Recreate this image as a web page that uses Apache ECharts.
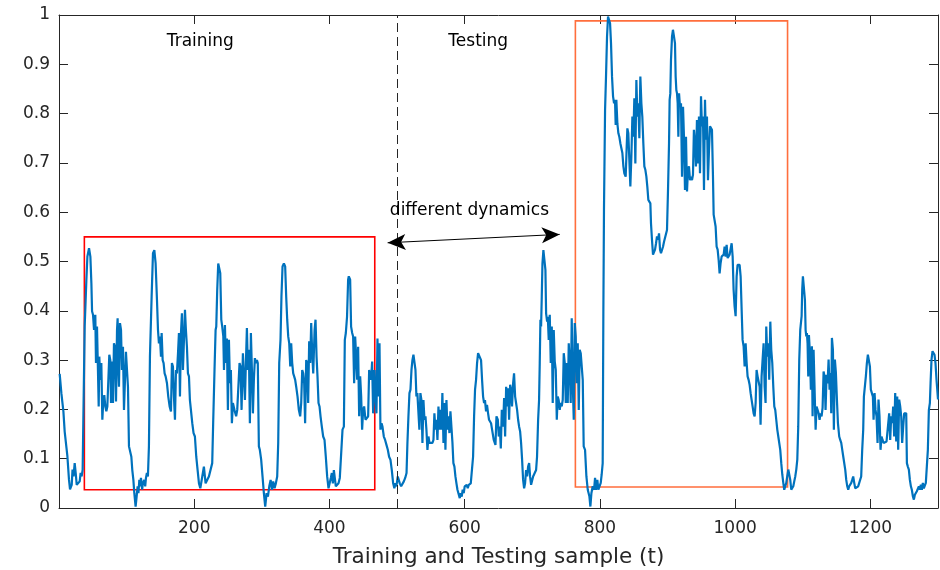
<!DOCTYPE html>
<html>
<head>
<meta charset="utf-8">
<script src="https://cdn.jsdelivr.net/npm/echarts@6/dist/echarts.min.js"></script>
<style>
html,body{margin:0;padding:0;background:#fff;}
#chart{width:940px;height:570px;}
</style>
</head>
<body>
<div id="chart"></div>
<script>
// ---- data: [sample t, value] ----
const seg1 = [[1,0.272],[3.5,0.233],[6.5,0.196],[8.4,0.155],[11,0.152],[12.4,0.105],[14.8,0.057],[16.3,0.038],[18.8,0.047],[20,0.078],[21.5,0.064],[23.2,0.091],[24.7,0.071],[26.2,0.047],[28.6,0.044],[30.6,0.054],[32,0.071],[33.5,0.064],[35,0.078],[36,0.179],[38,0.37],[40.5,0.463],[42,0.51],[44.4,0.527],[46.4,0.51],[47.9,0.456],[48.9,0.399],[50.3,0.392],[51.8,0.361],[53.7,0.392],[54.7,0.294],[56.2,0.368],[57.7,0.273],[58.7,0.206],[59.6,0.307],[61.1,0.26],[62.6,0.294],[64.1,0.179],[65.6,0.219],[67,0.229],[68.5,0.206],[70,0.196],[71.5,0.206],[73,0.209],[74.4,0.311],[75.9,0.30],[76.9,0.213],[78.4,0.297],[79.8,0.213],[81.3,0.334],[82.8,0.327],[84.3,0.216],[85.8,0.361],[86.7,0.385],[87.7,0.287],[88.7,0.246],[90.2,0.375],[91.7,0.361],[93.1,0.28],[94.6,0.327],[96.1,0.199],[97.6,0.26],[99,0.317],[100.5,0.314],[102,0.246],[103.5,0.125],[105.5,0.121],[107,0.104],[108.4,0.077],[110,0.057],[111.4,0.030],[113.3,0.003],[114.8,0.023],[116.3,0.044],[117.5,0.03],[118.8,0.057],[120,0.044],[121.2,0.061],[123,0.037],[124,0.05],[126,0.057],[127.5,0.044],[128.6,0.061],[130,0.071],[131.5,0.064],[133,0.125],[134.5,0.307],[137,0.429],[139,0.517],[141,0.523],[142.9,0.496],[144.9,0.422],[146.4,0.361],[147.8,0.334],[149.3,0.348],[150.8,0.307],[151.8,0.355],[153.3,0.30],[154.7,0.294],[156.2,0.273],[157.7,0.267],[159.7,0.253],[161.6,0.226],[163.6,0.206],[165.6,0.196],[167,0.294],[168.5,0.287],[170,0.226],[171.5,0.179],[173,0.28],[174.4,0.273],[176,0.314],[177.4,0.355],[178.9,0.226],[180.4,0.355],[181.8,0.395],[183.3,0.28],[184.8,0.341],[186.3,0.402],[187.7,0.361],[189.2,0.327],[190.7,0.273],[192.2,0.267],[193.6,0.219],[195.1,0.199],[197.1,0.172],[199,0.152],[201,0.145],[203,0.104],[205,0.077],[207,0.05],[209,0.040]];
const seg2 = [[211.9,0.064],[214.3,0.084],[216.8,0.050],[219,0.054],[221.7,0.064],[224,0.067],[226.6,0.091],[228,0.172],[230,0.28],[231.6,0.361],[232.6,0.368],[234,0.442],[235.5,0.496],[237,0.50],[238.5,0.476],[240,0.382],[241.4,0.368],[243,0.348],[244,0.28],[245.4,0.371],[246.8,0.294],[248.3,0.344],[249.8,0.199],[251.3,0.341],[252.8,0.253],[254.2,0.28],[255.7,0.172],[257.2,0.213],[258.7,0.216],[260,0.196],[262,0.186],[263.6,0.199],[265.6,0.196],[267,0.294],[268.5,0.287],[270,0.199],[272,0.314],[273.5,0.317],[275,0.219],[276.4,0.294],[277.9,0.365],[279.4,0.28],[280.8,0.321],[282.3,0.172],[283.8,0.355],[285.3,0.28],[286.8,0.192],[288.2,0.26],[289.7,0.304],[291.2,0.294],[292.7,0.30],[294,0.294],[295.6,0.125],[297,0.118],[299,0.098],[301,0.064],[303,0.030],[305,0.003],[307,0.030],[309,0.023],[311,0.044],[313,0.057],[315,0.037],[316.8,0.054],[318.8,0.040],[320.7,0.05],[322.7,0.064],[324.2,0.132],[325.7,0.294],[327.6,0.341],[329,0.429],[330.6,0.49],[332.6,0.496],[334.5,0.49],[336,0.429],[337.5,0.382],[339,0.348],[340.5,0.334],[342,0.287],[343.4,0.334],[344.9,0.294],[346.4,0.273],[347.8,0.267],[349.3,0.26],[350.8,0.246],[352.8,0.226],[354.7,0.199],[356.7,0.186],[358.2,0.213],[359.7,0.28],[361.2,0.273],[362.6,0.253],[364,0.172],[365.6,0.30],[367,0.294],[368.5,0.213],[370,0.338],[371.5,0.294],[373,0.375],[374.5,0.314],[376,0.273],[378,0.361],[379.4,0.382],[380.9,0.307],[382.3,0.267],[383.8,0.213],[385.3,0.206],[386.8,0.186],[388.7,0.165],[390.7,0.145],[392.7,0.138],[394.6,0.104],[396.6,0.064],[398.6,0.040],[400.6,0.037],[402,0.061],[403.5,0.071],[405,0.050],[406.5,0.077],[408,0.081],[409.4,0.044],[411.4,0.040],[413.4,0.05],[415.3,0.061],[417.3,0.064],[419.3,0.159],[421.3,0.165],[422.7,0.341],[424.2,0.355],[426,0.388],[427.6,0.463],[428.6,0.47]];
const seg3 = [[430.6,0.463],[432,0.368],[433.6,0.355],[435,0.348],[436.5,0.253],[438,0.348],[439.5,0.307],[441,0.26],[442.4,0.327],[443.9,0.186],[445.4,0.267],[446.9,0.226],[448.3,0.159],[449.8,0.199],[451.3,0.206],[453.3,0.179],[455.2,0.182],[457.2,0.186],[458.7,0.28],[460.2,0.267],[461.6,0.26],[463.1,0.297],[464.6,0.192],[466.6,0.28],[468,0.226],[469.5,0.192],[471,0.344],[472.5,0.226],[474,0.334],[475.4,0.159],[477,0.172],[478.4,0.165],[480.4,0.145],[482.3,0.138],[484.3,0.128],[486.3,0.118],[488.2,0.104],[490.2,0.098],[492.2,0.077],[494.2,0.050],[496,0.040],[497.6,0.050],[499,0.044],[501,0.064],[502.5,0.067],[504,0.050],[506,0.044],[508,0.047],[510,0.054],[512,0.061],[514,0.071],[515.3,0.132],[516.8,0.186],[518.3,0.233],[519.8,0.24],[521.3,0.28],[522.7,0.30],[524.2,0.311],[525.7,0.307],[527.2,0.28],[528.6,0.226],[530,0.233],[531.6,0.236],[533,0.159],[534.5,0.233],[536,0.219],[537.5,0.132],[539,0.219],[540.5,0.179],[542,0.186],[543.4,0.159],[544.9,0.118],[546.4,0.145],[547.9,0.132],[549.3,0.135],[550.8,0.128],[552.3,0.132],[553.8,0.138],[555.2,0.192],[556.7,0.159],[558.2,0.179],[559.7,0.138],[561.2,0.206],[562.6,0.159],[564,0.199],[565.6,0.159],[567,0.233],[568.6,0.132],[570,0.213],[571.5,0.118],[573,0.219],[574.5,0.159],[576,0.186],[577.4,0.152],[578.9,0.196],[580.4,0.192],[581.9,0.132],[583.3,0.091],[584.8,0.084],[586.3,0.064],[587.8,0.050],[589.3,0.037],[591.2,0.040],[592.7,0.020],[594.2,0.030],[595.6,0.023],[597,0.037],[598.6,0.030],[600,0.044],[601.6,0.040],[603,0.047],[604.5,0.040],[606,0.047],[607.5,0.044],[609,0.05],[611,0.054],[612.4,0.104],[613.9,0.186],[615.3,0.24],[616.8,0.26],[618.3,0.294],[619.8,0.314],[621.3,0.317],[622.7,0.314],[624.2,0.30],[625.7,0.26],[627.2,0.226],[628.7,0.213],[630,0.219],[631.6,0.196],[633,0.209],[634.6,0.192],[636,0.179],[637.5,0.175],[639,0.172],[640.5,0.159],[643,0.138]];
const seg4 = [[645.5,0.128],[647,0.186],[649,0.179],[650.4,0.145],[651.9,0.165],[653.4,0.121],[654.9,0.199],[656.8,0.165],[658.3,0.223],[659.8,0.145],[661.3,0.246],[662.7,0.206],[664.2,0.243],[665.7,0.179],[667.2,0.25],[668.6,0.24],[670,0.206],[671.6,0.253],[673,0.273],[674.6,0.226],[676,0.213],[677.5,0.199],[679,0.179],[680.5,0.165],[682,0.155],[683.4,0.132],[684.9,0.098],[686.4,0.057],[687.9,0.040],[689.3,0.050],[690.8,0.077],[692.3,0.064],[693.8,0.084],[695.3,0.091],[696.7,0.064],[698.2,0.047],[699.7,0.050],[701.2,0.064],[702.6,0.061],[704,0.064],[705.6,0.077],[707,0.104],[708.6,0.179],[710,0.219],[711,0.294],[712,0.382],[713,0.368],[714,0.429],[715,0.496],[716.4,0.523],[718,0.523],[719.4,0.483],[720.4,0.395],[721.9,0.378],[722.9,0.388],[724.3,0.341],[725.8,0.392],[727.3,0.294],[728.8,0.368],[730.2,0.213],[731.7,0.361],[733.2,0.297],[734.7,0.28],[736.2,0.179],[737.6,0.226],[739,0.219],[740.6,0.199],[742,0.213],[743.5,0.206],[745,0.219],[746.5,0.314],[748,0.294],[749.5,0.213],[751,0.294],[752.4,0.213],[753.9,0.334],[755.4,0.294],[756.8,0.213],[758.3,0.385],[759.8,0.253],[761.3,0.179],[762.8,0.375],[764.2,0.348],[765.7,0.253],[767.2,0.334],[768.7,0.199],[770.1,0.321],[771.6,0.314],[773,0.314],[774.6,0.26]];
const seg5 = [[776,0.125],[778,0.118],[780,0.064],[782,0.037],[784.4,0.024],[785.9,0.003],[787.4,0.030],[789.3,0.044],[791.3,0.037],[792.8,0.061],[794.3,0.037],[796.2,0.057],[797.7,0.037],[799.7,0.037],[801.2,0.051],[802.6,0.068],[804.1,0.091],[805.1,0.402],[806,0.605],[807.6,0.807],[809,0.875],[810.5,0.956],[812,0.997],[813.5,1.0],[815,0.983],[816.4,0.943],[817.9,0.875],[819.4,0.835],[820.9,0.821],[822.3,0.828],[823.3,0.777],[824.3,0.828],[825.8,0.780],[827.3,0.760],[828.7,0.753],[830.2,0.740],[831.7,0.743],[833.2,0.720],[834.7,0.693],[836.1,0.679],[838.1,0.672],[839.6,0.733],[840.6,0.770],[842,0.760],[843.5,0.763],[845,0.652],[846.5,0.713],[848,0.794],[849.4,0.753],[850.9,0.831],[852.4,0.699],[853.9,0.868],[855.4,0.794],[856.8,0.821],[858.3,0.750],[859.8,0.875],[861.3,0.821],[862.7,0.794],[864.2,0.740],[865.7,0.693],[867.2,0.686],[868.7,0.672],[870.1,0.652],[871.6,0.625],[873,0.622],[874.6,0.618],[875.5,0.578],[877,0.544],[878.5,0.514],[880,0.510],[881.5,0.524],[883,0.537],[884.4,0.551],[885.9,0.544],[887.4,0.557],[888.9,0.524],[890.3,0.517],[891.8,0.520],[893.3,0.530],[894.8,0.540],[896.2,0.537],[897.7,0.544],[899.2,0.564],[900.7,0.645],[902.2,0.740],[903.1,0.828],[904.1,0.841],[905.1,0.909],[906.6,0.956],[908,0.970],[909.5,0.970],[911,0.943],[912,0.875],[913,0.848],[914,0.841],[915,0.821],[916,0.753],[917,0.841],[918.4,0.814],[919.9,0.821],[921.4,0.672],[922.9,0.814],[924.3,0.753],[925.8,0.645],[927.3,0.753],[928.8,0.642],[930.2,0.686],[931.7,0.693],[933.2,0.665],[934.7,0.672],[936.2,0.665],[937.6,0.676],[939,0.767],[940.6,0.740],[942,0.693],[943.5,0.787],[945,0.699],[946.5,0.794],[948,0.679],[949.5,0.835],[950.9,0.774],[952.4,0.794],[953.9,0.645],[955.4,0.828],[956.8,0.747],[958.3,0.794],[959.8,0.665],[961.3,0.726],[962.8,0.774],[964.2,0.770],[965.7,0.767],[967.2,0.672],[968.2,0.595],[969.7,0.591],[971.1,0.571],[972.6,0.530],[974.1,0.524],[975.6,0.503],[977,0.476],[978.5,0.497],[980,0.510],[981.5,0.507],[983,0.514],[984.4,0.530],[985.9,0.510],[987.4,0.534],[988.9,0.507],[990.4,0.510],[991.8,0.514],[993.3,0.510],[994.8,0.537],[996.3,0.510],[997.7,0.443],[999.2,0.409],[1000.7,0.389],[1002.2,0.470],[1003.6,0.493],[1005.1,0.497],[1006.6,0.493],[1008.1,0.470],[1009.6,0.402],[1011,0.341],[1012.5,0.328],[1014,0.287],[1015.5,0.334],[1017,0.294],[1018.4,0.267],[1019.9,0.260],[1021.4,0.250],[1022.9,0.233],[1024.3,0.220],[1025.8,0.206],[1027.3,0.192],[1028.8,0.186],[1030.3,0.213],[1031.7,0.280],[1033.2,0.267],[1034.7,0.267],[1036.2,0.246],[1037.6,0.169],[1039.1,0.267],[1040.6,0.301],[1042.1,0.334],[1043.6,0.246],[1045,0.213],[1046,0.368],[1047.5,0.307],[1049,0.334],[1050.4,0.260],[1052,0.378],[1053.4,0.321],[1054.9,0.294],[1056.4,0.246],[1057.9,0.206],[1059.3,0.199],[1060.8,0.179],[1062.3,0.159],[1063.8,0.145],[1065.2,0.142],[1066.7,0.118],[1068.2,0.091],[1069.7,0.068],[1071.2,0.051],[1072.6,0.037],[1074.1,0.044],[1075.6,0.051],[1077,0.064],[1078.6,0.078],[1080,0.074],[1081.5,0.057],[1083,0.037],[1084.5,0.040],[1086,0.044],[1087.4,0.054],[1088.9,0.064],[1090.4,0.078],[1091.9,0.098],[1093.3,0.165],[1094.8,0.301],[1096.3,0.362]];
const seg6 = [[1098.3,0.389],[1099.2,0.443],[1100.2,0.470],[1101.7,0.470],[1103.2,0.422],[1104.2,0.361],[1105.2,0.348],[1106.1,0.355],[1107.1,0.334],[1108.1,0.267],[1109.1,0.351],[1110.6,0.314],[1112,0.240],[1113.5,0.328],[1114.5,0.186],[1116,0.321],[1117.5,0.240],[1119,0.159],[1120.4,0.206],[1121.9,0.199],[1123.4,0.192],[1124.9,0.179],[1126.3,0.192],[1127.8,0.186],[1129.3,0.203],[1130.8,0.277],[1132.2,0.267],[1133.7,0.199],[1135.2,0.270],[1136.7,0.253],[1138.2,0.301],[1139.6,0.240],[1141.1,0.274],[1142.1,0.192],[1143.1,0.345],[1144.6,0.321],[1146,0.159],[1147.5,0.301],[1149,0.274],[1150.5,0.220],[1152,0.172],[1153.9,0.145],[1155.4,0.138],[1156.9,0.132],[1158.4,0.118],[1159.8,0.105],[1161.3,0.101],[1162.8,0.078],[1164.3,0.057],[1165.8,0.044],[1167.2,0.037],[1168.7,0.044],[1170.2,0.040],[1171.7,0.051],[1173.1,0.057],[1174.6,0.064],[1176.1,0.051],[1177.6,0.040],[1179,0.044],[1180.5,0.040],[1182,0.044],[1183.5,0.051],[1185,0.054],[1186.4,0.064],[1187.9,0.118],[1189.4,0.159],[1190.4,0.226],[1191.9,0.230],[1193.3,0.267],[1194.8,0.294],[1196.3,0.311],[1197.8,0.307],[1199.3,0.287],[1200.7,0.240],[1202.2,0.233],[1203.7,0.226],[1204.7,0.179],[1206.2,0.233],[1207.6,0.199],[1209.1,0.186],[1210.6,0.132],[1212,0.220],[1213.5,0.186],[1215,0.118],[1216.5,0.145],[1218,0.138],[1219.5,0.132],[1221,0.132],[1222.4,0.128],[1223.9,0.135],[1225.4,0.138],[1226.8,0.138],[1227.8,0.192],[1229.3,0.138],[1230.8,0.186],[1232.3,0.172],[1233.7,0.206],[1235.2,0.145],[1236.7,0.233],[1238.2,0.135],[1239.7,0.226],[1241.1,0.118],[1242.6,0.220],[1244.1,0.206],[1245.6,0.186],[1247,0.132],[1248.5,0.165],[1250,0.192],[1251.5,0.196],[1253,0.192],[1254,0.091],[1255.4,0.084],[1256.9,0.078],[1258.4,0.057],[1259.9,0.044],[1261.3,0.037],[1262.8,0.024],[1264.3,0.017],[1265.8,0.027],[1267.2,0.024],[1268.7,0.034],[1270.2,0.037],[1271.7,0.044],[1273.2,0.037],[1274.6,0.047],[1276.1,0.037],[1277.6,0.051],[1279,0.040],[1280.6,0.044],[1282,0.051],[1283.5,0.054],[1285,0.118],[1286.5,0.199],[1288,0.213],[1289,0.253],[1290.4,0.301],[1291.9,0.318],[1293.4,0.318],[1294.8,0.311],[1296.3,0.294],[1297.8,0.260],[1299.3,0.233],[1300,0.220]];

// axis ticks
const xTicks = [200, 400, 600, 800, 1000, 1200];
const yTicks = [0, 0.1, 0.2, 0.3, 0.4, 0.5, 0.6, 0.7, 0.8, 0.9, 1];

// annotations (data coordinates)
const trainBox = [[37.5, 0.037], [467, 0.55]];
const testBox = [[763.7, 0.0426], [1077.5, 0.988]];
const splitAt = 500;
const arrowEnds = [[486, 0.538], [740.5, 0.555]];
const texts = [
  { name: 'Training', coord: [209, 0.947] },
  { name: 'Testing', coord: [620, 0.947] },
  { name: 'different dynamics', coord: [607, 0.604] }
];

const seriesData = [].concat(seg1, seg2, seg3, seg4, seg5, seg6);

const FONT = 'DejaVu Sans';
const AX = '#262626';

const chart = echarts.init(document.getElementById('chart'), null, { renderer: 'canvas' });

const axisCommonX = {
  type: 'value', min: 0, max: 1300, interval: 200,
  axisLine: { show: true, onZero: false, lineStyle: { color: AX, width: 1 } },
  axisTick: { show: true, inside: true, length: 9, lineStyle: { color: AX, width: 1 } },
  splitLine: { show: false }
};
const axisCommonY = {
  type: 'value', min: 0, max: 1, interval: 0.1,
  axisLine: { show: true, onZero: false, lineStyle: { color: AX, width: 1 } },
  axisTick: { show: true, inside: true, length: 9, lineStyle: { color: AX, width: 1 } },
  splitLine: { show: false }
};

chart.setOption({
  animation: false,
  backgroundColor: '#ffffff',
  grid: { left: 59, right: 2, top: 15, bottom: 62, containLabel: false, outerBoundsMode: 'none' },
  xAxis: [
    Object.assign({}, axisCommonX, {
      position: 'bottom',
      name: 'Training and Testing sample (t)',
      nameLocation: 'middle',
      nameGap: 38,
      nameTextStyle: { fontFamily: FONT, fontSize: 21.5, color: AX },
      axisLabel: {
        show: true, margin: 12, fontFamily: FONT, fontSize: 17, color: AX,
        formatter: v => (xTicks.indexOf(v) >= 0 ? String(v) : '')
      }
    }),
    Object.assign({}, axisCommonX, { position: 'top', axisLabel: { show: false } })
  ],
  yAxis: [
    Object.assign({}, axisCommonY, {
      position: 'left',
      axisLabel: {
        show: true, margin: 9, fontFamily: FONT, fontSize: 17, color: AX,
        formatter: v => {
          const r = Math.round(v * 10) / 10;
          return yTicks.indexOf(r) >= 0 ? String(r) : '';
        }
      }
    }),
    Object.assign({}, axisCommonY, { position: 'right', axisLabel: { show: false } })
  ],
  series: [
    {
      type: 'line',
      data: seriesData,
      xAxisIndex: 0, yAxisIndex: 0,
      showSymbol: false,
      symbol: 'none',
      lineStyle: { color: '#0072BD', width: 2.2 },
      z: 2
    },
    {
      type: 'line',
      data: [],
      xAxisIndex: 0, yAxisIndex: 0,
      z: 5,
      silent: true,
      markArea: {
        silent: true,
        data: [
          [{ coord: trainBox[0], itemStyle: { color: 'rgba(0,0,0,0)', borderColor: '#FF0000', borderWidth: 1.6 } }, { coord: trainBox[1] }],
          [{ coord: testBox[0], itemStyle: { color: 'rgba(0,0,0,0)', borderColor: '#FF6E3C', borderWidth: 1.6 } }, { coord: testBox[1] }]
        ]
      },
      markLine: {
        silent: true,
        symbol: ['none', 'none'],
        label: { show: false },
        data: [
          [
            { coord: [splitAt, 0], lineStyle: { color: '#262626', width: 1, type: [9, 5] }, symbol: 'none' },
            { coord: [splitAt, 1], symbol: 'none' }
          ],
          [
            { coord: arrowEnds[0], lineStyle: { color: '#000', width: 1, type: 'solid' }, symbol: 'arrow', symbolSize: [12, 18] },
            { coord: arrowEnds[1], symbol: 'arrow', symbolSize: [12, 18] }
          ]
        ]
      },
      markPoint: {
        silent: true,
        symbol: 'circle',
        symbolSize: 0,
        itemStyle: { color: 'rgba(0,0,0,0)' },
        label: { show: true, position: 'inside', fontFamily: FONT, fontSize: 17, color: '#000', formatter: p => p.name },
        data: texts.map(t => ({ name: t.name, coord: t.coord }))
      }
    }
  ]
});
</script>
</body>
</html>
